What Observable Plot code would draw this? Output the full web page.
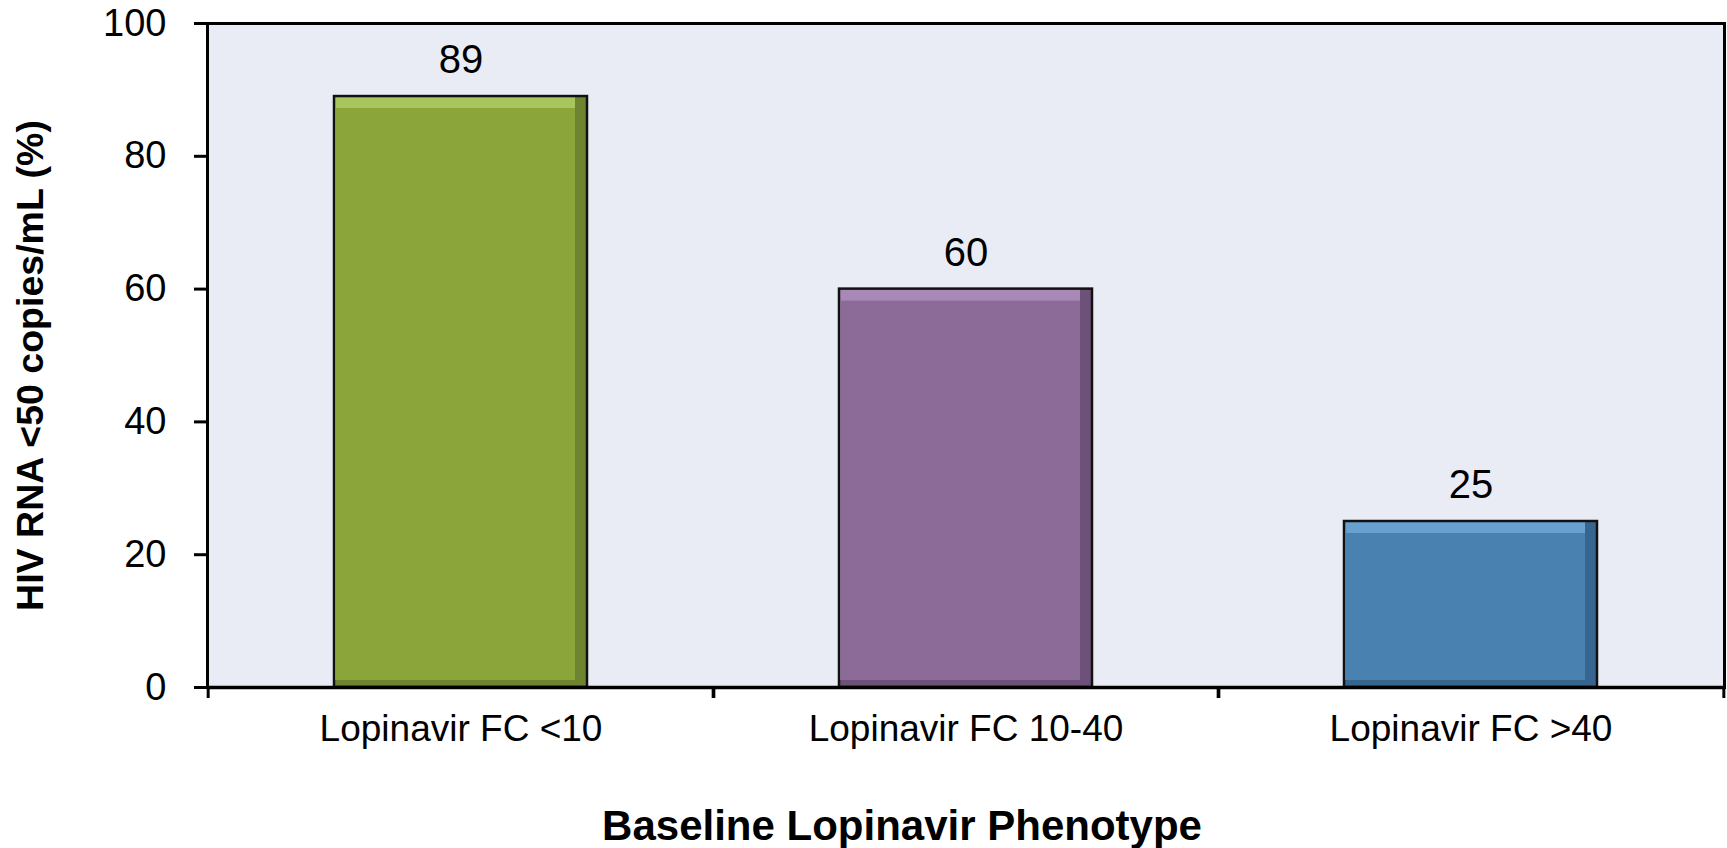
<!DOCTYPE html>
<html>
<head>
<meta charset="utf-8">
<script src="https://cdn.jsdelivr.net/npm/d3@7"></script>
<script src="https://cdn.jsdelivr.net/npm/@observablehq/plot@0.6"></script>
<style>
  html, body { margin: 0; padding: 0; background: #ffffff; }
</style>
</head>
<body>
<div id="chart"></div>
<script>
const categories = ["Lopinavir FC <10", "Lopinavir FC 10-40", "Lopinavir FC >40"];
const values = [89, 60, 25];
const yTicks = [0, 20, 40, 60, 80, 100];
const yTitle = "HIV RNA <50 copies/mL (%)";
const xTitle = "Baseline Lopinavir Phenotype";

const baseColors = ["#8BA53A", "#8C6B99", "#4981B1"];
const lightColors = ["#A9C65C", "#A888B6", "#68A0CF"];
const darkColors = ["#6E8430", "#6E5179", "#36668F"];

const data = categories.map((c, i) => ({
  category: c, value: values[i],
  base: baseColors[i], light: lightColors[i], dark: darkColors[i]
}));

const W = 1727, H = 848;
const mL = 207, mR = 3, mT = 23, mB = 161;
const step = (W - mL - mR) / categories.length;
const font = "'Liberation Sans', Arial, Helvetica, sans-serif";

const chart = Plot.plot({
  width: W, height: H,
  marginLeft: mL, marginRight: mR, marginTop: mT, marginBottom: mB,
  style: { fontFamily: font, background: "#ffffff", color: "#000000" },
  x: { domain: categories, paddingInner: 0.5, paddingOuter: 0.25 },
  y: { domain: [0, 100] },
  color: { type: "identity" },
  marks: [
    Plot.frame({ fill: "#E9ECF5", stroke: "none" }),
    Plot.barY(data, { x: "category", y: "value", fill: "dark" }),
    Plot.barY(data, { x: "category", y: "value", fill: "light", insetRight: 12, insetBottom: 7 }),
    Plot.barY(data, { x: "category", y: "value", fill: "base", insetTop: 12, insetRight: 12, insetBottom: 7, insetLeft: 2 }),
    Plot.barY(data, { x: "category", y: "value", fill: "none", stroke: "#111111", strokeWidth: 2.5 }),
    Plot.text(data, { x: "category", y: "value", text: d => String(d.value), dy: -36, fontSize: 40, fill: "#000000" }),
    Plot.frame({ stroke: "#000000", strokeWidth: 3 }),
    Plot.ruleY([0], { stroke: "#000000", strokeWidth: 3.5 }),
    Plot.axisY({ ticks: yTicks, tickSize: 13, tickPadding: 28, fontSize: 38, strokeWidth: 3, label: null, tickFormat: d => String(d) }),
    Plot.axisX({ tickSize: 0, tickPadding: 27, fontSize: 37, label: null }),
    Plot.axisX({ tickSize: 11, tickFormat: () => "", label: null, dx: -step / 2, strokeWidth: 3 }),
    Plot.axisX({ tickSize: 11, tickFormat: () => "", label: null, dx: step / 2, strokeWidth: 3 }),
    Plot.text([yTitle], { frameAnchor: "left", text: d => d, dx: -177, dy: 10, rotate: -90, textAnchor: "middle", fontSize: 37.5, fontWeight: "bold", lineAnchor: "middle", fill: "#000000" }),
    Plot.text([xTitle], { frameAnchor: "bottom", text: d => d, dx: -64, dy: 139, textAnchor: "middle", fontSize: 42, fontWeight: "bold", lineAnchor: "middle", fill: "#000000" })
  ]
});

document.getElementById("chart").appendChild(chart);
</script>
</body>
</html>
